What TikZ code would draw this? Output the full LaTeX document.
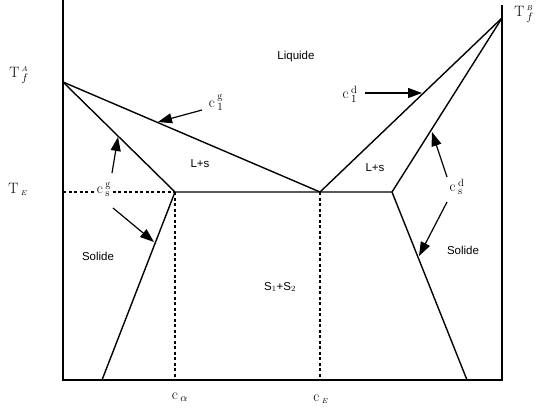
\documentclass[tikz,border=0pt]{standalone}
\usepackage{fontspec}
\setsansfont{Liberation Sans}
\usetikzlibrary{arrows.meta}
\begin{document}
\begin{tikzpicture}[x=1pt,y=-1pt,
  frame/.style={line width=1.4pt},
  phase/.style={line width=1.4pt},
  guide/.style={line width=1.3pt,dash pattern=on 3pt off 2.5pt},
  pointer/.style={line width=1.2pt,-{Triangle[length=14pt,width=10pt]}},
  lbl/.style={font=\sffamily\fontsize{11.5}{13}\selectfont,inner sep=1pt},
  mlbl/.style={font=\fontsize{15}{17}\selectfont,inner sep=1pt}]
\useasboundingbox (0,0) rectangle (537,407);
% frame coordinates
\coordinate (LT) at (63,0);
\coordinate (O) at (63,380);
\coordinate (RT) at (502,5);
\coordinate (RO) at (502,380);
% phase points
\coordinate (A) at (63,82);
\coordinate (B) at (502,18);
\coordinate (E) at (320,192);
\coordinate (P) at (175,192);
\coordinate (Q) at (392,192);
\coordinate (Lb) at (102,380);
\coordinate (Rb) at (467,380);
\coordinate (Pb) at (175,380);
\coordinate (Eb) at (320,380);
\coordinate (TEl) at (63,192);
% frame
\draw[frame] (LT) -- (O) -- (RO) -- (RT);
% liquidus / solidus / solvus
\draw[phase] (A) -- (E) -- (B);
\draw[phase] (A) -- (P) -- (Q) -- (B);
\draw[phase] (P) -- (Lb);
\draw[phase] (Q) -- (Rb);
% guides
\draw[guide] (TEl) -- (P);
\draw[guide] (P) -- (Pb);
\draw[guide] (E) -- (Eb);
% labels
\node[mlbl] (TfA) at (19,75) {$\mathrm{T}\,{}_f^{\scriptscriptstyle A}$};
\node[mlbl] (TE) at (18,189) {$\mathrm{T}\,{}_{\scriptscriptstyle E}$};
\node[mlbl] (TfB) at (524,14) {$\mathrm{T}\,{}_f^{\scriptscriptstyle B}$};
\node[lbl] (liq) at (296,57) {Liquide};
\node[mlbl] (clg) at (216,103) {$\mathrm{c}\,{}_1^{\mathrm{g}}$};
\node[mlbl] (cld) at (350,94) {$\mathrm{c}\,{}_1^{\mathrm{d}}$};
\node[lbl] (lsg) at (200,164) {L+s};
\node[lbl] (lsd) at (375,168) {L+s};
\node[mlbl,fill=white] (csg) at (104,190) {$\mathrm{c}\,{}_{\mathrm{s}}^{\mathrm{g}}$};
\node[mlbl] (csd) at (457,187) {$\mathrm{c}\,{}_{\mathrm{s}}^{\mathrm{d}}$};
\node[lbl] (solg) at (98,256) {Solide};
\node[lbl] (sold) at (463,250) {Solide};
\node[lbl] (s12) at (280,287) {S$_1$+S$_2$};
\node[mlbl] (ca) at (180,397) {$\mathrm{c}\,{}_{\alpha}$};
\node[mlbl] (cE) at (321,399) {$\mathrm{c}\,{}_{\scriptscriptstyle E}$};
% arrow ends
\coordinate (clgT) at (202,110); \coordinate (clgH) at (158,122);
\coordinate (cldT) at (365,93);  \coordinate (cldH) at (422,93);
\coordinate (csgT1) at (112,173); \coordinate (csgH1) at (118,137);
\coordinate (csgT2) at (113,208); \coordinate (csgH2) at (154,242);
\coordinate (csdT1) at (447,177); \coordinate (csdH1) at (432,132);
\coordinate (csdT2) at (447,202); \coordinate (csdH2) at (419,256);
\draw[pointer] (clgT) -- (clgH);
\draw[pointer] (cldT) -- (cldH);
\draw[pointer] (csgT1) -- (csgH1);
\draw[pointer] (csgT2) -- (csgH2);
\draw[pointer] (csdT1) -- (csdH1);
\draw[pointer] (csdT2) -- (csdH2);
\end{tikzpicture}
\end{document}
